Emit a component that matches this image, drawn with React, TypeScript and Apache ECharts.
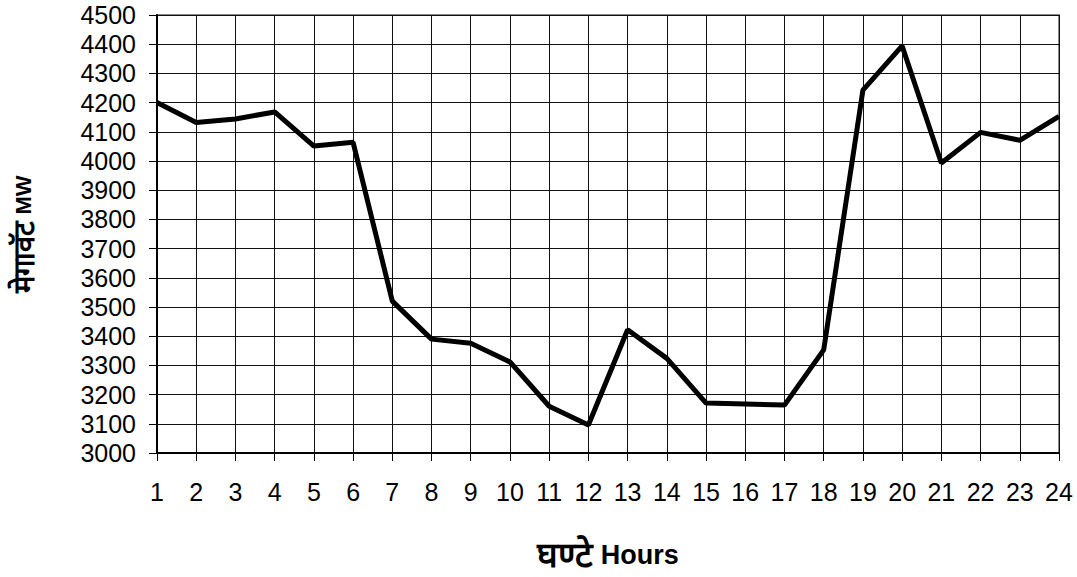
import React, { useEffect, useRef } from "react";
import * as echarts from "echarts";

const hours = ["1","2","3","4","5","6","7","8","9","10","11","12","13","14","15","16","17","18","19","20","21","22","23","24"];
const megawatts = [4200, 4132, 4144, 4168, 4051, 4064, 3520, 3390, 3376, 3312, 3160, 3096, 3422, 3324, 3171, 3168, 3164, 3353, 4243, 4394, 3993, 4098, 4071, 4153];
const yMin = 3000;
const yMax = 4500;
const yStep = 100;

const FONT = "Liberation Sans, Arial, sans-serif";

export default function App() {
  const ref = useRef<HTMLDivElement>(null);
  useEffect(() => {
    if (!ref.current) return;
    const chart = echarts.init(ref.current, null, { renderer: "svg" });
    chart.setOption({
      animation: false,
      backgroundColor: "#ffffff",
      textStyle: { fontFamily: FONT },
      grid: {
        left: 157, right: 18, top: 15, bottom: 124,
        show: true, borderColor: "#888888", borderWidth: 2, backgroundColor: "transparent",
      },
      xAxis: {
        type: "category",
        data: hours,
        boundaryGap: false,
        axisLine: { show: true, lineStyle: { color: "#000", width: 2 } },
        axisTick: { show: true, alignWithLabel: true, length: 8, inside: false, lineStyle: { color: "#000", width: 1 } },
        axisLabel: { color: "#000", fontSize: 25, margin: 26, fontFamily: FONT },
        splitLine: { show: true, interval: 0, lineStyle: { color: "#111", width: 1 } },
        name: "{a|घण्टे}{b| Hours}",
        nameLocation: "middle",
        nameGap: 84,
        nameTextStyle: {
          rich: {
            a: { fontSize: 35, fontWeight: "bold", color: "#000" },
            b: { fontSize: 27, fontWeight: "bold", color: "#000", fontFamily: FONT },
          },
        },
      },
      yAxis: {
        type: "value",
        min: yMin, max: yMax, interval: yStep,
        axisLine: { show: true, lineStyle: { color: "#000", width: 2 } },
        axisTick: { show: true, length: 8, lineStyle: { color: "#000", width: 1 } },
        axisLabel: { color: "#000", fontSize: 25, margin: 21, fontFamily: FONT, formatter: (v: number) => String(v) },
        splitLine: { show: true, lineStyle: { color: "#111", width: 1 } },
        name: "{a|मेगावॅट}{b| MW}",
        nameLocation: "middle",
        nameRotate: 90,
        nameGap: 119,
        nameTextStyle: {
          rich: {
            a: { fontSize: 29, fontWeight: "bold", color: "#000" },
            b: { fontSize: 22, fontWeight: "bold", color: "#000", fontFamily: FONT },
          },
        },
      },
      series: [
        {
          type: "line",
          data: megawatts,
          symbol: "none",
          lineStyle: { color: "#000", width: 5 },
        },
      ],
    });
    return () => chart.dispose();
  }, []);
  return <div ref={ref} style={{ width: 1077, height: 577, position: "absolute", left: 0, top: 0 }} />;
}
